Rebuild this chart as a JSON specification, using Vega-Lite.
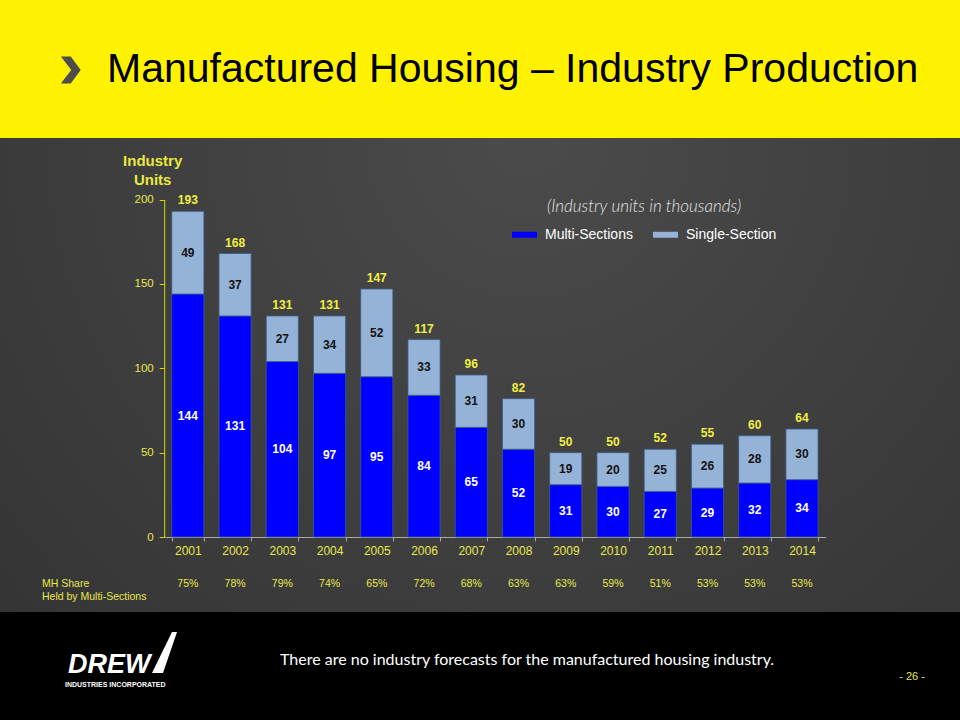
{
  "$schema": "https://vega.github.io/schema/vega-lite/v6.json",
  "background": "#000000",
  "padding": 0,
  "spacing": 0,
  "bounds": "flush",
  "config": {
    "font": "Liberation Sans",
    "view": {"stroke": null},
    "axis": {"grid": false},
    "concat": {"spacing": 0}
  },
  "datasets": {
    "production": [
      {"year": "2001", "type": "Multi-Sections", "units": 144},
      {"year": "2001", "type": "Single-Section", "units": 49},
      {"year": "2002", "type": "Multi-Sections", "units": 131},
      {"year": "2002", "type": "Single-Section", "units": 37},
      {"year": "2003", "type": "Multi-Sections", "units": 104},
      {"year": "2003", "type": "Single-Section", "units": 27},
      {"year": "2004", "type": "Multi-Sections", "units": 97},
      {"year": "2004", "type": "Single-Section", "units": 34},
      {"year": "2005", "type": "Multi-Sections", "units": 95},
      {"year": "2005", "type": "Single-Section", "units": 52},
      {"year": "2006", "type": "Multi-Sections", "units": 84},
      {"year": "2006", "type": "Single-Section", "units": 33},
      {"year": "2007", "type": "Multi-Sections", "units": 65},
      {"year": "2007", "type": "Single-Section", "units": 31},
      {"year": "2008", "type": "Multi-Sections", "units": 52},
      {"year": "2008", "type": "Single-Section", "units": 30},
      {"year": "2009", "type": "Multi-Sections", "units": 31},
      {"year": "2009", "type": "Single-Section", "units": 19},
      {"year": "2010", "type": "Multi-Sections", "units": 30},
      {"year": "2010", "type": "Single-Section", "units": 20},
      {"year": "2011", "type": "Multi-Sections", "units": 27},
      {"year": "2011", "type": "Single-Section", "units": 25},
      {"year": "2012", "type": "Multi-Sections", "units": 29},
      {"year": "2012", "type": "Single-Section", "units": 26},
      {"year": "2013", "type": "Multi-Sections", "units": 32},
      {"year": "2013", "type": "Single-Section", "units": 28},
      {"year": "2014", "type": "Multi-Sections", "units": 34},
      {"year": "2014", "type": "Single-Section", "units": 30}
    ],
    "summary": [
      {"year": "2001", "total": 193, "share": "75%"},
      {"year": "2002", "total": 168, "share": "78%"},
      {"year": "2003", "total": 131, "share": "79%"},
      {"year": "2004", "total": 131, "share": "74%"},
      {"year": "2005", "total": 147, "share": "65%"},
      {"year": "2006", "total": 117, "share": "72%"},
      {"year": "2007", "total": 96, "share": "68%"},
      {"year": "2008", "total": 82, "share": "63%"},
      {"year": "2009", "total": 50, "share": "63%"},
      {"year": "2010", "total": 50, "share": "59%"},
      {"year": "2011", "total": 52, "share": "51%"},
      {"year": "2012", "total": 55, "share": "53%"},
      {"year": "2013", "total": 60, "share": "53%"},
      {"year": "2014", "total": 64, "share": "53%"}
    ]
  },
  "vconcat": [
    {
      "width": 960,
      "height": 138,
      "view": {"fill": "#FFF200", "stroke": null},
      "data": {"values": [{}]},
      "layer": [
        {
          "mark": {"type": "point", "shape": "M-0.75,-1L-0.02,-1L0.72,0L-0.02,1L-0.75,1L0.02,0Z", "size": 729, "filled": true, "color": "#4D4D4D", "opacity": 1},
          "encoding": {"x": {"value": 71}, "y": {"value": 70}}
        },
        {
          "mark": {"type": "text", "text": "Manufactured Housing – Industry Production", "align": "left", "baseline": "alphabetic", "fontSize": 41, "color": "#000000"},
          "encoding": {"x": {"value": 107}, "y": {"value": 82}}
        }
      ]
    },
    {
      "width": 960,
      "height": 474,
      "view": {
        "stroke": null,
        "fill": {
          "gradient": "radial",
          "x1": 0.55, "y1": 0.25, "r1": 0,
          "x2": 0.55, "y2": 0.25, "r2": 0.8,
          "stops": [
            {"offset": 0, "color": "#4b4b4b"},
            {"offset": 1, "color": "#333333"}
          ]
        }
      },
      "layer": [
        {
          "data": {"name": "production"},
          "mark": {"type": "bar", "stroke": "#3A5A8C", "strokeWidth": 0.8},
          "encoding": {
            "x": {
              "field": "year", "type": "nominal",
              "scale": {"range": [164.2, 825.6], "paddingInner": 0.32, "paddingOuter": 0.16},
              "axis": {
                "title": null, "orient": "bottom", "offset": -75,
                "labelAngle": 0, "labelColor": "#E8E84C", "labelFontSize": 12,
                "labelPadding": 4, "tickSize": 4, "tickBand": "extent",
                "domainColor": "#A8A8A8", "tickColor": "#A8A8A8"
              }
            },
            "y": {
              "field": "units", "type": "quantitative", "stack": "zero",
              "scale": {"domain": [0, 200], "range": [399, 61.5], "nice": false},
              "axis": {
                "orient": "left", "offset": -164.2, "values": [0, 50, 100, 150, 200],
                "labelColor": "#E8E84C", "labelFontSize": 11.5, "labelPadding": 6, "tickSize": 5,
                "domainColor": "#D8D800", "tickColor": "#D8D800",
                "title": ["Industry", "Units"], "titleAngle": 0, "titleAlign": "center",
                "titleBaseline": "alphabetic", "titleX": -12, "titleY": 27,
                "titleLineHeight": 19, "titleColor": "#E8E840", "titleFontSize": 15, "titleFontWeight": "bold"
              }
            },
            "color": {
              "field": "type", "type": "nominal",
              "scale": {"domain": ["Multi-Sections", "Single-Section"], "range": ["#0000FF", "#95B3D7"]},
              "legend": {
                "orient": "none", "legendX": 512, "legendY": 199, "direction": "horizontal",
                "title": "(Industry units in thousands)", "titleFont": "Lato", "titleFontStyle": "italic",
                "titleFontWeight": 300, "titleFontSize": 17, "titleColor": "#E2E2E2", "titleLimit": 400,
                "titleAnchor": "middle", "titlePadding": 6, "padding": 0, "offset": 0,
                "labelColor": "#FFFFFF", "labelFontSize": 14, "labelOffset": 8, "columnPadding": 20,
                "symbolType": "M-1,-0.24L1,-0.24L1,0.24L-1,0.24Z", "symbolSize": 625, "symbolStrokeWidth": 0
              }
            },
            "order": {"field": "type", "sort": "ascending"}
          }
        },
        {
          "data": {"name": "production"},
          "mark": {"type": "text", "baseline": "middle", "fontWeight": "bold", "fontSize": 12, "dy": {"expr": "datum.units * 0.84375"}},
          "encoding": {
            "x": {"field": "year", "type": "nominal"},
            "y": {"field": "units", "type": "quantitative", "stack": "zero"},
            "detail": {"field": "type"},
            "order": {"field": "type", "sort": "ascending"},
            "text": {"field": "units"},
            "color": {"condition": {"test": "datum.type === 'Multi-Sections'", "value": "#FFFFFF"}, "value": "#111111"}
          }
        },
        {
          "data": {"name": "summary"},
          "mark": {"type": "text", "baseline": "bottom", "dy": -4, "fontWeight": "bold", "fontSize": 12, "color": "#F0F040"},
          "encoding": {
            "x": {"field": "year", "type": "nominal"},
            "y": {"field": "total", "type": "quantitative"},
            "text": {"field": "total"}
          }
        },
        {
          "data": {"name": "summary"},
          "mark": {"type": "text", "baseline": "alphabetic", "fontSize": 10.5, "color": "#E8E84C"},
          "encoding": {
            "x": {"field": "year", "type": "nominal"},
            "y": {"value": 449},
            "text": {"field": "share"}
          }
        },
        {
          "data": {"values": [{}]},
          "mark": {"type": "text", "text": ["MH Share", "Held by Multi-Sections"], "align": "left", "baseline": "alphabetic", "lineHeight": 13, "fontSize": 10.5, "color": "#E8E84C"},
          "encoding": {"x": {"value": 42}, "y": {"value": 449}}
        }
      ]
    },
    {
      "width": 960,
      "height": 108,
      "view": {"fill": "#000000", "stroke": null},
      "data": {"values": [{}]},
      "layer": [
        {
          "mark": {"type": "text", "text": "DREW", "align": "left", "baseline": "alphabetic", "fontSize": 27, "fontWeight": "bold", "fontStyle": "italic", "color": "#FFFFFF"},
          "encoding": {"x": {"value": 68}, "y": {"value": 61}}
        },
        {
          "mark": {"type": "point", "shape": "M-0.683,1L-0.146,1L0.537,-1L0.293,-1Z", "size": 1681, "filled": true, "color": "#FFFFFF", "opacity": 1},
          "encoding": {"x": {"value": 166}, "y": {"value": 40.5}}
        },
        {
          "mark": {"type": "text", "text": "INDUSTRIES INCORPORATED", "align": "left", "baseline": "alphabetic", "fontSize": 7, "fontWeight": "bold", "color": "#FFFFFF"},
          "encoding": {"x": {"value": 65}, "y": {"value": 75}}
        },
        {
          "mark": {"type": "text", "text": "There are no industry forecasts for the manufactured housing industry.", "align": "left", "baseline": "alphabetic", "font": "Lato", "fontSize": 16, "color": "#FFFFFF"},
          "encoding": {"x": {"value": 280}, "y": {"value": 53}}
        },
        {
          "mark": {"type": "text", "text": "- 26 -", "align": "center", "baseline": "alphabetic", "fontSize": 11, "color": "#E8E84C"},
          "encoding": {"x": {"value": 912}, "y": {"value": 68}}
        }
      ]
    }
  ]
}
